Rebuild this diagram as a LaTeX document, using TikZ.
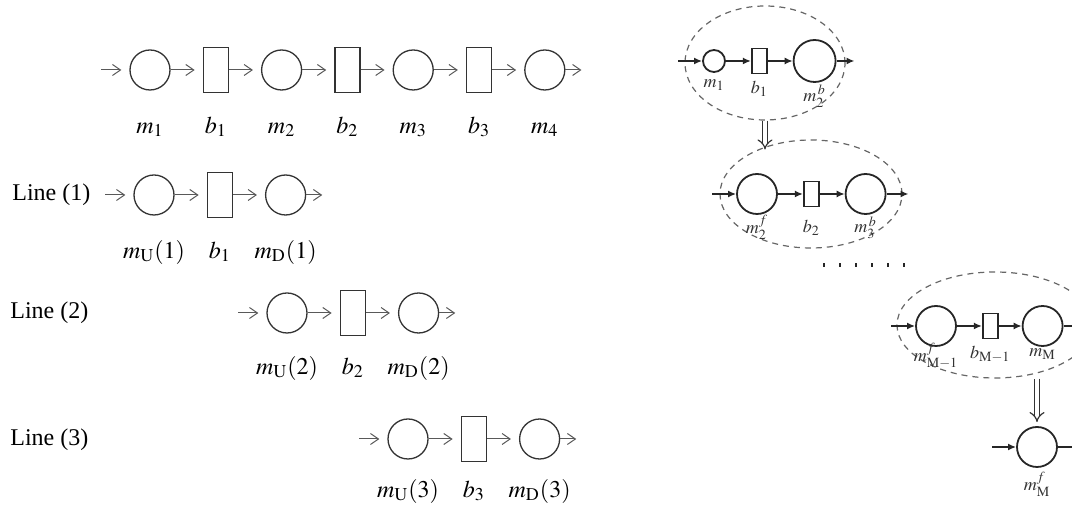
\documentclass[tikz,border=0pt]{standalone}
\usepackage{mathptmx}
\usepackage{fontspec}
\setmainfont{Liberation Serif}
\usepackage{tikz}
\usetikzlibrary{shapes.geometric, arrows.meta, positioning}

\tikzset{
  mach/.style={circle, draw=black!80, line width=0.65pt, minimum size=20pt, inner sep=0pt},
  buff/.style={rectangle, draw=black!80, line width=0.65pt, minimum width=12.5pt, minimum height=22.5pt, inner sep=0pt},
  flow/.style={draw=black!65, line width=0.5pt, -{Straight Barb[length=4pt, width=5.5pt]}, shorten >=4pt},
  lab/.style={font=\large, inner sep=0pt, text height=7pt, text depth=3pt},
  linetxt/.style={font=\large, anchor=west, inner sep=0pt},
  rmach/.style={circle, draw=black!85, line width=0.9pt, minimum size=20pt, inner sep=0pt},
  rbuff/.style={rectangle, draw=black!85, line width=0.9pt, minimum width=7.5pt, minimum height=12.5pt, inner sep=0pt},
  rflow/.style={draw=black!85, line width=0.8pt, -{Latex[length=4pt, width=3.5pt]}},
  rlab/.style={font=\small, inner sep=0pt, text=black!80},
  decomp/.style={ellipse, draw=black!60, dash pattern=on 3pt off 2.5pt, line width=0.6pt, inner sep=0pt},
  dbl/.style={draw=black!80, double, double distance=2pt, line width=0.6pt, -{Implies}},
}

\begin{document}
\begin{tikzpicture}[x=0.5pt, y=-0.5pt, node distance=16pt]
  \useasboundingbox (0,0) rectangle (1072,506);

  % original line m1 .. m4
  \node (m1) [mach] at (150,70) {};
  \node (b1) [buff, right=of m1] {};
  \node (m2) [mach, right=of b1] {};
  \node (b2) [buff, right=of m2] {};
  \node (m3) [mach, right=of b2] {};
  \node (b3) [buff, right=of m3] {};
  \node (m4) [mach, right=of b3] {};
  \node (lm1) [lab, below=14pt of m1] {$m_1$};
  \node (lb1) [lab] at (b1 |- lm1) {$b_1$};
  \node (lm2) [lab] at (m2 |- lm1) {$m_2$};
  \node (lb2) [lab] at (b2 |- lm1) {$b_2$};
  \node (lm3) [lab] at (m3 |- lm1) {$m_3$};
  \node (lb3) [lab] at (b3 |- lm1) {$b_3$};
  \node (lm4) [lab] at (m4 |- lm1) {$m_4$};
  \coordinate [left=14pt of m1] (in0);
  \coordinate [right=12pt of m4] (out0);
  \draw[flow] (in0) -- (m1);
  \draw[flow] (m1) -- (b1);
  \draw[flow] (b1) -- (m2);
  \draw[flow] (m2) -- (b2);
  \draw[flow] (b2) -- (m3);
  \draw[flow] (m3) -- (b3);
  \draw[flow] (b3) -- (m4);
  \draw[flow] (m4) -- (out0);

  % two-machine lines
  \node (line1) [linetxt] at (12,195) {Line (1)};
  \node (line2) [linetxt] at (10,313) {Line (2)};
  \node (line3) [linetxt] at (10,440) {Line (3)};

  \node (mu1) [mach] at (154,195) {};
  \node (bb1) [buff, right=of mu1] {};
  \node (md1) [mach, right=of bb1] {};
  \node (mu2) [mach] at (287,313) {};
  \node (bb2) [buff, right=of mu2] {};
  \node (md2) [mach, right=of bb2] {};
  \node (mu3) [mach] at (408,439) {};
  \node (bb3) [buff, right=of mu3] {};
  \node (md3) [mach, right=of bb3] {};

  \node (lmu1) [lab, below=14pt of mu1] {$m_{\mathrm{U}}(1)$};
  \node (lbb1) [lab] at (bb1 |- lmu1) {$b_1$};
  \node (lmd1) [lab] at (md1 |- lmu1) {$m_{\mathrm{D}}(1)$};
  \node (lmu2) [lab, below=13pt of mu2] {$m_{\mathrm{U}}(2)$};
  \node (lbb2) [lab] at (bb2 |- lmu2) {$b_2$};
  \node (lmd2) [lab] at (md2 |- lmu2) {$m_{\mathrm{D}}(2)$};
  \node (lmu3) [lab, below=11.5pt of mu3] {$m_{\mathrm{U}}(3)$};
  \node (lbb3) [lab] at (bb3 |- lmu3) {$b_3$};
  \node (lmd3) [lab] at (md3 |- lmu3) {$m_{\mathrm{D}}(3)$};

  \coordinate [left=14pt of mu1] (in1);
  \coordinate [right=12pt of md1] (out1);
  \coordinate [left=14pt of mu2] (in2);
  \coordinate [right=12pt of md2] (out2);
  \coordinate [left=14pt of mu3] (in3);
  \coordinate [right=12pt of md3] (out3);
  \draw[flow] (in1) -- (mu1);
  \draw[flow] (mu1) -- (bb1);
  \draw[flow] (bb1) -- (md1);
  \draw[flow] (md1) -- (out1);
  \draw[flow] (in2) -- (mu2);
  \draw[flow] (mu2) -- (bb2);
  \draw[flow] (bb2) -- (md2);
  \draw[flow] (md2) -- (out2);
  \draw[flow] (in3) -- (mu3);
  \draw[flow] (mu3) -- (bb3);
  \draw[flow] (bb3) -- (md3);
  \draw[flow] (md3) -- (out3);

  % decomposition, right side
  \node (grp1) [decomp, minimum width=80pt, minimum height=57pt] at (765,63) {};
  \node (grp2) [decomp, minimum width=91pt, minimum height=54pt] at (811,194) {};
  \node (grp3) [decomp, minimum width=98pt, minimum height=53pt] at (995,325) {};

  \node (rm1) [rmach, minimum size=11pt] at (714,61) {};
  \node (rb1) [rbuff, right=12.5pt of rm1] {};
  \node (rm2b) [rmach, minimum size=21pt, right=12.5pt of rb1] {};
  \node (lrm1) [rlab, below=3pt of rm1] {$m_1$};
  \node (lrb1) [rlab, below=3pt of rb1] {$b_1$};
  \node (lrm2b) [rlab, below=1pt of rm2b] {$m^{\,b}_2$};

  \node (rm2f) [rmach] at (757,194) {};
  \node (rb2) [rbuff, right=12.5pt of rm2f] {};
  \node (rm3b) [rmach, right=12.5pt of rb2] {};
  \node (lrm2f) [rlab, below=0pt of rm2f] {$m_2^f$};
  \node (lrb2) [rlab] at (rb2 |- lrm2f) {$b_2$};
  \node (lrm3b) [rlab] at (rm3b |- lrm2f) {$m^{\,b}_3$};

  \node (rmM1f) [rmach] at (936,326) {};
  \node (rbM1) [rbuff, right=12.5pt of rmM1f] {};
  \node (rmM) [rmach, right=11.5pt of rbM1] {};
  \node (lrmM1f) [rlab, below=-2pt of rmM1f] {$m_{\mathrm{M}-1}^f$};
  \node (lrbM1) [rlab, below=3pt of rbM1] {$b_{\mathrm{M}-1}$};
  \node (lrmM) [rlab] at (rmM |- lrbM1) {$m_{\mathrm{M}}$};

  \node (rmMf) [rmach] at (1037,447) {};
  \node (lrmMf) [rlab, below=2pt of rmMf] {$m_{\mathrm{M}}^f$};

  \coordinate [left=12pt of rm1] (rin1);
  \coordinate [right=9pt of rm2b] (rout1);
  \coordinate [left=12pt of rm2f] (rin2);
  \coordinate [right=11pt of rm3b] (rout2);
  \coordinate [left=12pt of rmM1f] (rin3);
  \coordinate [right=12pt of rmM] (rout3);
  \coordinate [left=12pt of rmMf] (rin4);
  \coordinate [right=12pt of rmMf] (rout4);

  \draw[rflow] (rin1) -- (rm1);
  \draw[rflow] (rm1) -- (rb1);
  \draw[rflow] (rb1) -- (rm2b);
  \draw[rflow] (rm2b) -- (rout1);
  \draw[rflow] (rin2) -- (rm2f);
  \draw[rflow] (rm2f) -- (rb2);
  \draw[rflow] (rb2) -- (rm3b);
  \draw[rflow] (rm3b) -- (rout2);
  \draw[rflow] (rin3) -- (rmM1f);
  \draw[rflow] (rmM1f) -- (rbM1);
  \draw[rflow] (rbM1) -- (rmM);
  \draw[rflow] (rmM) -- (rout3);
  \draw[rflow] (rin4) -- (rmMf);
  \draw[rflow] (rmMf) -- (rout4);

  \draw[dbl] (grp1.south) -- (grp1.south |- grp2.140);
  \draw[dbl, shorten >=2pt] (rmMf.north |- grp3.south) -- (rmMf.north);

  \coordinate (dotsL) at (823,265);
  \coordinate (dotsR) at (910,265);
  \draw[draw=black!85, line width=2pt, dash pattern=on 1.2pt off 6.8pt] (dotsL) -- (dotsR);
\end{tikzpicture}
\end{document}
